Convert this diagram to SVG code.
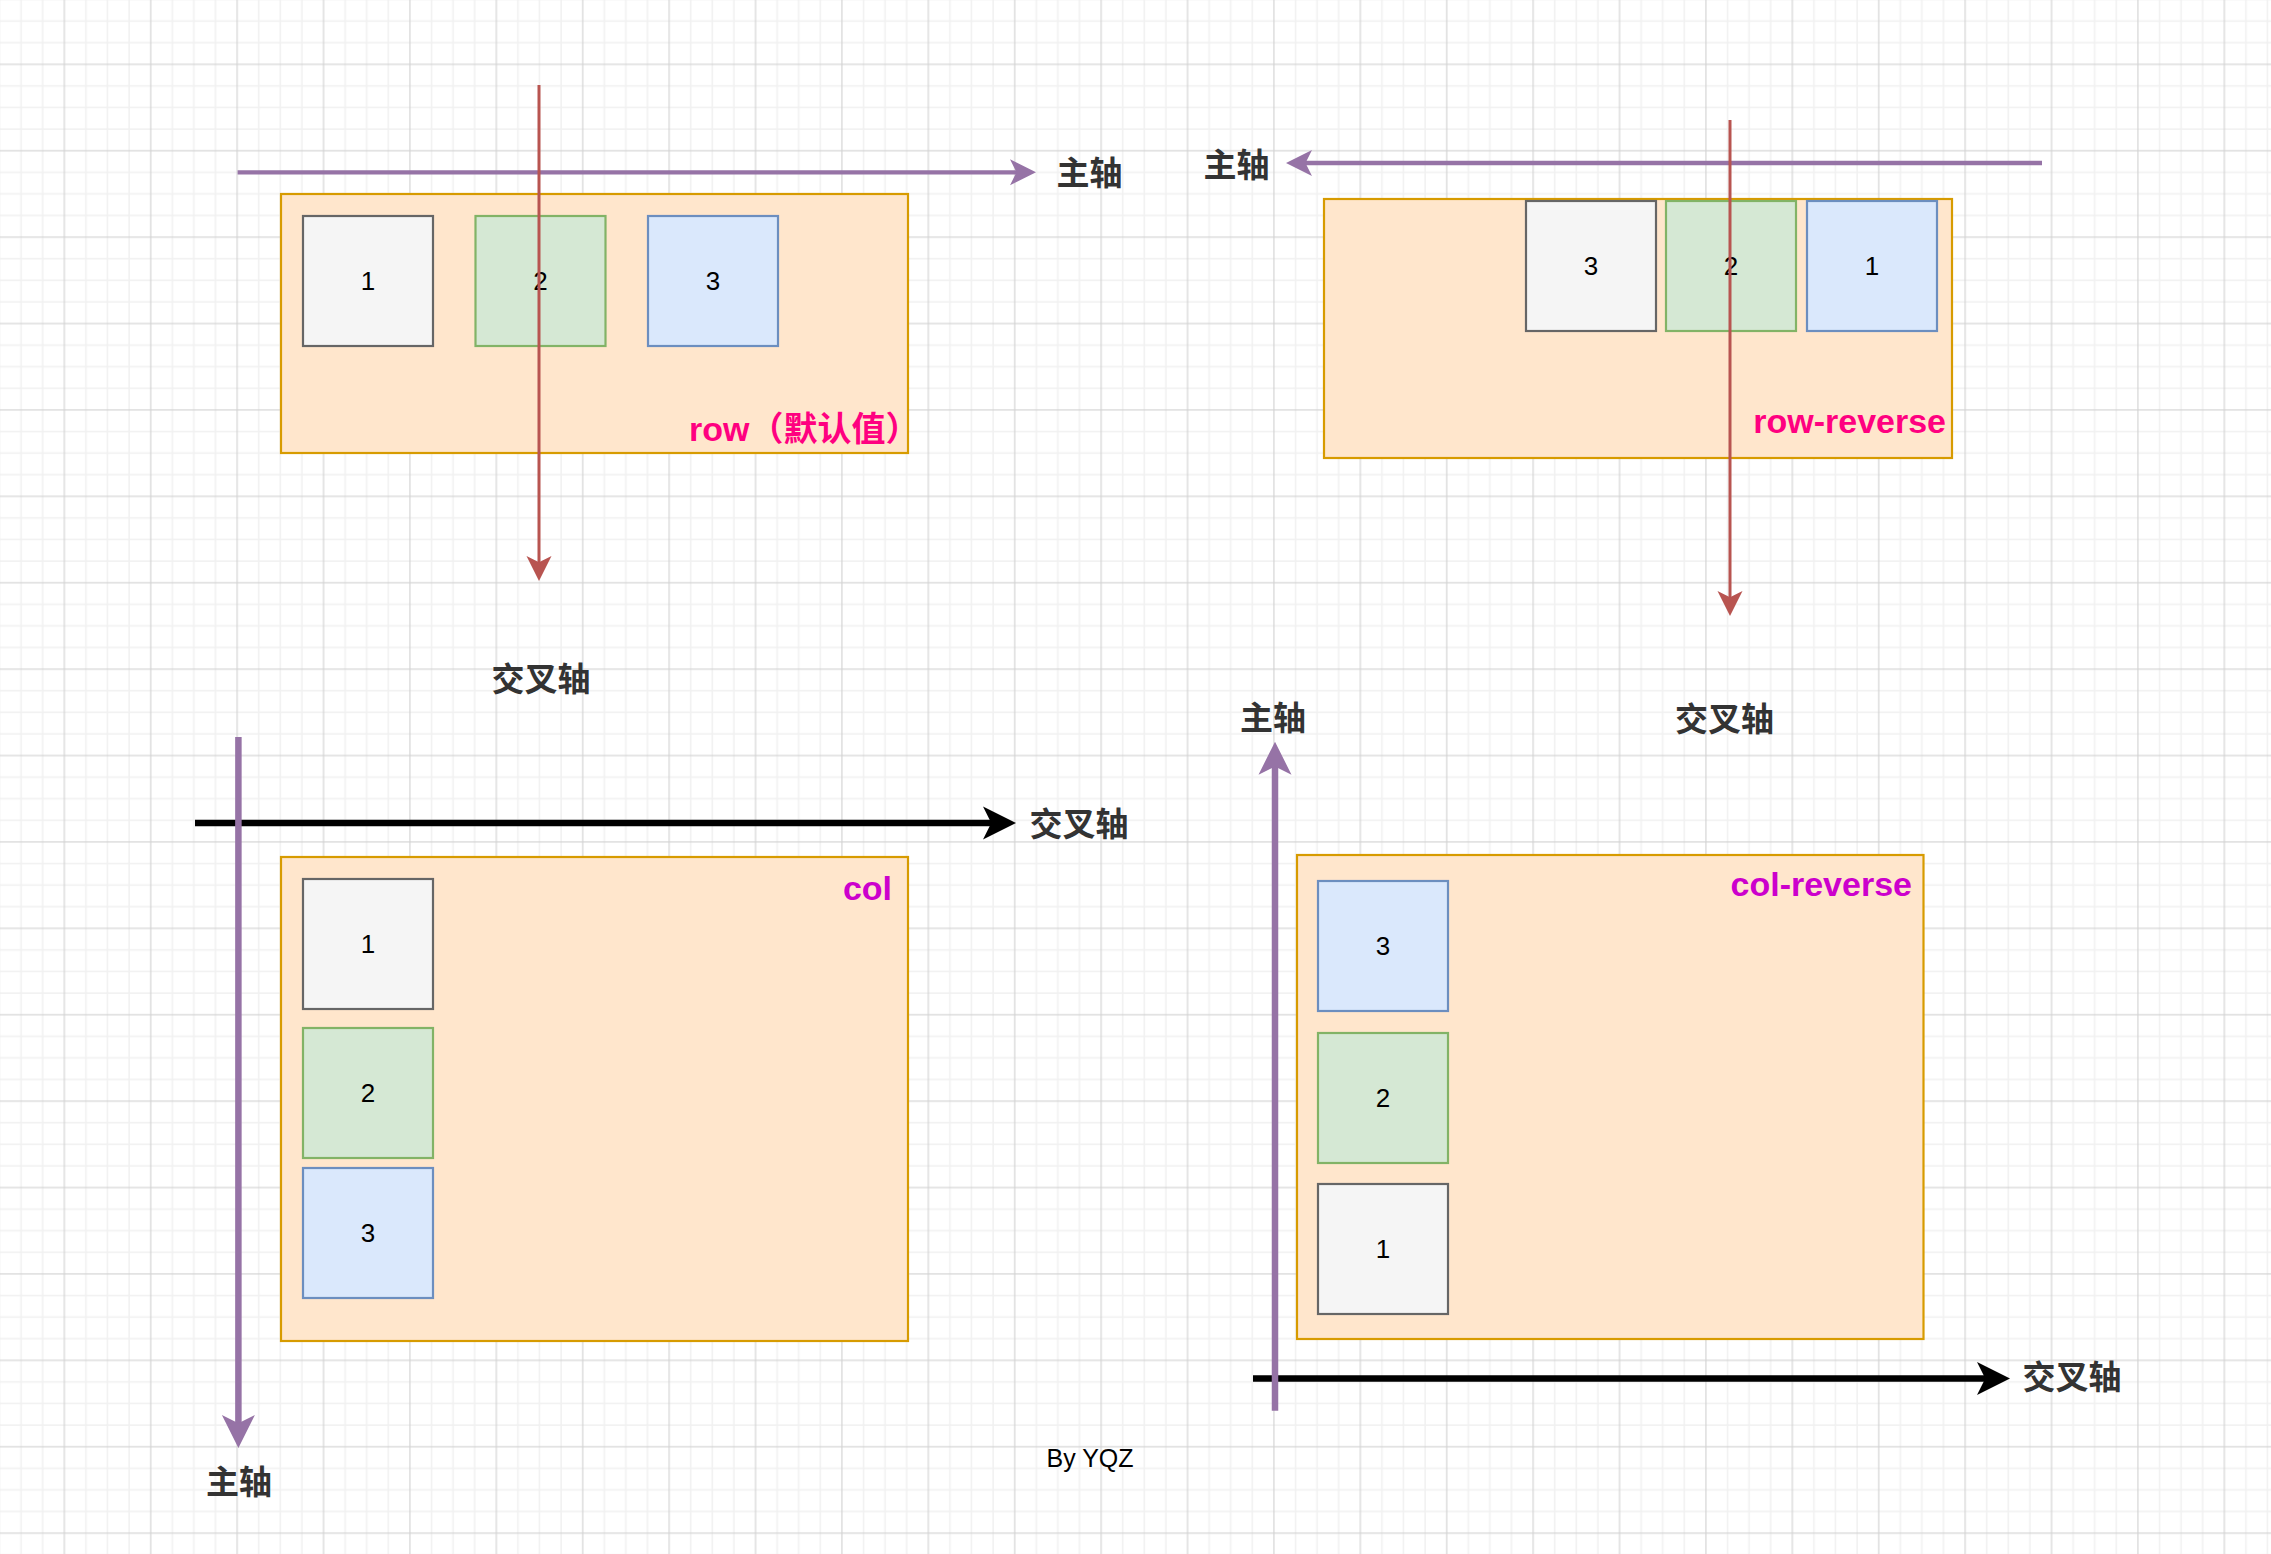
<svg xmlns="http://www.w3.org/2000/svg" width="2271" height="1554" viewBox="0 0 2271 1554">
<defs>
<style>
.cont{fill:#ffe6cc;stroke:#d79b00;stroke-width:2.2}
.gray{fill:#f5f5f5;stroke:#666666;stroke-width:2.2}
.green{fill:#d5e8d4;stroke:#82b366;stroke-width:2.2}
.blue{fill:#dae8fc;stroke:#6c8ebf;stroke-width:2.2}
.num{font-family:"Liberation Sans",Arial,sans-serif;font-size:26px;fill:#000;text-anchor:middle;dominant-baseline:central}
.axis{font-family:"Noto Sans CJK SC","Liberation Sans",sans-serif;font-size:33px;font-weight:bold;fill:#333333;text-anchor:middle;dominant-baseline:central}
.tag{font-family:"Liberation Sans","Noto Sans CJK SC",sans-serif;font-size:34px;font-weight:bold}
.pink{fill:#ff0080}
.mag{fill:#cc00cc}
.by{font-family:"Liberation Sans",Arial,sans-serif;font-size:25px;fill:#000;text-anchor:middle;dominant-baseline:central}
.pl{stroke:#9673a6;fill:none}
.pa{fill:#9673a6}
.rl{stroke:#b85450;stroke-width:3;fill:none}
.ra{fill:#b85450}
.bl{stroke:#000;stroke-width:6.5;fill:none}
.ba{fill:#000}
</style>
<pattern id="grid" x="53.5" y="53.5" width="86.4" height="86.4" patternUnits="userSpaceOnUse">
<rect x="0" y="0" width="86.4" height="86.4" fill="#ffffff"/>
<g fill="#f1f1f1">
<rect x="31.65" y="0" width="1.5" height="86.4"/>
<rect x="53.25" y="0" width="1.5" height="86.4"/>
<rect x="74.85" y="0" width="1.5" height="86.4"/>
<rect x="0" y="31.65" width="86.4" height="1.5"/>
<rect x="0" y="53.25" width="86.4" height="1.5"/>
<rect x="0" y="74.85" width="86.4" height="1.5"/>
</g>
<g fill="#d2d2d2">
<rect x="10.3" y="0" width="1.1" height="86.4"/>
<rect x="0" y="10.3" width="86.4" height="1.1"/>
</g>
</pattern>
</defs>
<rect x="0" y="0" width="2271" height="1554" fill="url(#grid)"/>

<g id="nodes">
<g id="row-container">
<rect class="cont" x="281" y="194" width="627" height="259"/>
<text class="tag pink" x="689" y="441">row（默认值）</text>
</g>
<g id="row-item-1"><rect class="gray" x="303" y="216" width="130" height="130"/><text class="num" x="368" y="281">1</text></g>
<g id="row-item-2"><rect class="green" x="475.5" y="216" width="130" height="130"/><text class="num" x="540.5" y="281">2</text></g>
<g id="row-item-3"><rect class="blue" x="648" y="216" width="130" height="130"/><text class="num" x="713" y="281">3</text></g>

<g id="rowrev-container">
<rect class="cont" x="1324" y="199" width="628" height="259"/>
<text class="tag pink" x="1946" y="433" text-anchor="end">row-reverse</text>
</g>
<g id="rowrev-item-3"><rect class="gray" x="1526" y="201" width="130" height="130"/><text class="num" x="1591" y="266">3</text></g>
<g id="rowrev-item-2"><rect class="green" x="1666" y="201" width="130" height="130"/><text class="num" x="1731" y="266">2</text></g>
<g id="rowrev-item-1"><rect class="blue" x="1807" y="201" width="130" height="130"/><text class="num" x="1872" y="266">1</text></g>

<g id="col-container">
<rect class="cont" x="281" y="857" width="627" height="484"/>
<text class="tag mag" x="892" y="900" text-anchor="end">col</text>
</g>
<g id="col-item-1"><rect class="gray" x="303" y="879" width="130" height="130"/><text class="num" x="368" y="944">1</text></g>
<g id="col-item-2"><rect class="green" x="303" y="1028" width="130" height="130"/><text class="num" x="368" y="1093">2</text></g>
<g id="col-item-3"><rect class="blue" x="303" y="1168" width="130" height="130"/><text class="num" x="368" y="1233">3</text></g>

<g id="colrev-container">
<rect class="cont" x="1297" y="855" width="626.5" height="484"/>
<text class="tag mag" x="1912" y="896" text-anchor="end">col-reverse</text>
</g>
<g id="colrev-item-3"><rect class="blue" x="1318" y="881" width="130" height="130"/><text class="num" x="1383" y="946">3</text></g>
<g id="colrev-item-2"><rect class="green" x="1318" y="1033" width="130" height="130"/><text class="num" x="1383" y="1098">2</text></g>
<g id="colrev-item-1"><rect class="gray" x="1318" y="1184" width="130" height="130"/><text class="num" x="1383" y="1249">1</text></g>

<g id="label-tl-main"><text class="axis" x="1089.5" y="171">主轴</text></g>
<g id="label-tl-cross"><text class="axis" x="541" y="677">交叉轴</text></g>
<g id="label-tr-main"><text class="axis" x="1236.5" y="163">主轴</text></g>
<g id="label-tr-cross"><text class="axis" x="1724.5" y="717">交叉轴</text></g>
<g id="label-bl-cross"><text class="axis" x="1079" y="822">交叉轴</text></g>
<g id="label-bl-main"><text class="axis" x="239" y="1480">主轴</text></g>
<g id="label-br-main"><text class="axis" x="1273" y="716">主轴</text></g>
<g id="label-br-cross"><text class="axis" x="2072" y="1375">交叉轴</text></g>
<g id="label-by"><text class="by" x="1090" y="1458">By YQZ</text></g>
</g>

<g id="connectors">
<line class="pl" stroke-width="4.3" x1="237.6" y1="172.3" x2="1017" y2="172.3"/>
<path class="pa" d="M1036,172.3 L1010,159.3 L1016.5,172.3 L1010,185.3 Z"/>
<line class="rl" x1="539" y1="85" x2="539" y2="563"/>
<path class="ra" d="M539,581 L526.5,556 L539,562.25 L551.5,556 Z"/>

<line class="pl" stroke-width="4.3" x1="2042" y1="163" x2="1305" y2="163"/>
<path class="pa" d="M1286,163 L1312,150 L1305.5,163 L1312,176 Z"/>
<line class="rl" x1="1730" y1="120" x2="1730" y2="598"/>
<path class="ra" d="M1730,616 L1717.5,591 L1730,597.25 L1742.5,591 Z"/>

<line class="bl" x1="195" y1="823" x2="992" y2="823"/>
<path class="ba" d="M1016,823 L983,806.5 L991.25,823 L983,839.5 Z"/>
<line class="pl" stroke-width="6.5" x1="238.4" y1="737" x2="238.4" y2="1424"/>
<path class="pa" d="M238.4,1448 L221.9,1415 L238.4,1423.25 L254.9,1415 Z"/>

<line class="bl" x1="1253" y1="1378.5" x2="1986" y2="1378.5"/>
<path class="ba" d="M2010,1378.5 L1977,1362 L1985.25,1378.5 L1977,1395 Z"/>
<line class="pl" stroke-width="6.5" x1="1275" y1="1410.7" x2="1275" y2="766"/>
<path class="pa" d="M1275,741.7 L1258.5,774.7 L1275,766.45 L1291.5,774.7 Z"/>
</g>
</svg>
